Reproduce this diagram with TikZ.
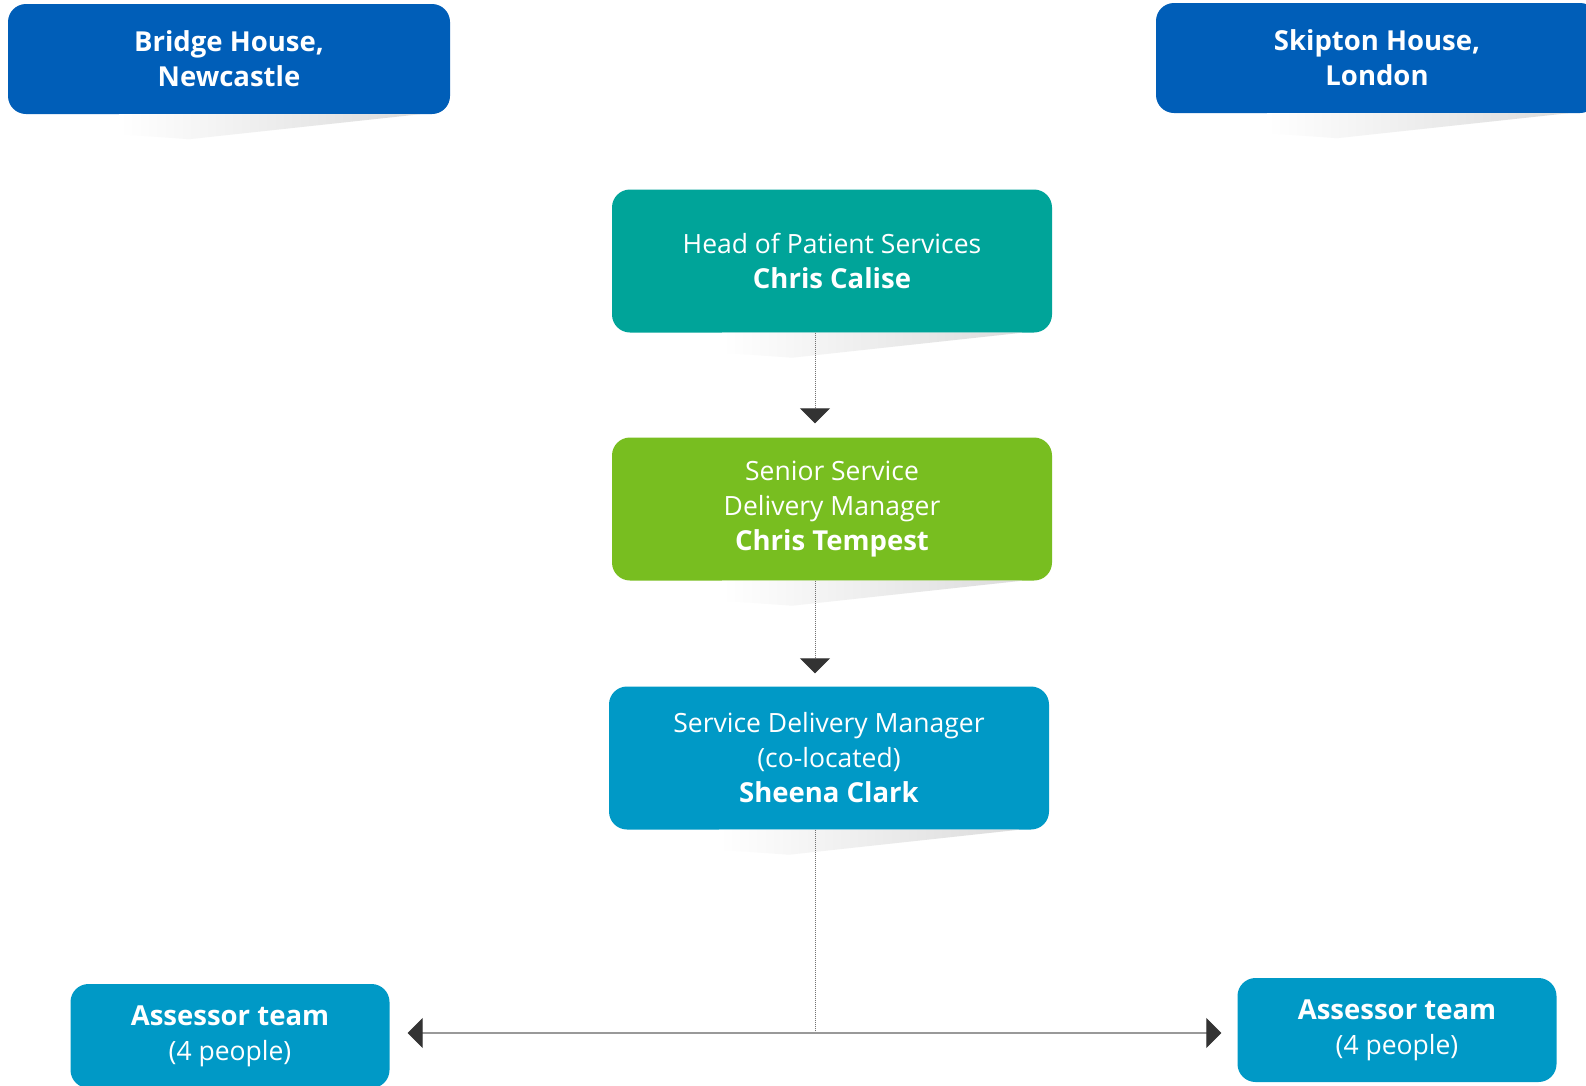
\documentclass[tikz,border=0pt]{standalone}
\usepackage{fontspec}
\setmainfont{Open Sans}
\usetikzlibrary{arrows.meta}
\definecolor{nhsblue}{HTML}{005EB8}
\definecolor{headteal}{HTML}{00A499}
\definecolor{seniorgreen}{HTML}{78BE20}
\definecolor{teamblue}{HTML}{0099C6}
\definecolor{tipgrey}{HTML}{333333}
\begin{document}
\begin{tikzpicture}[x=1pt,y=-1pt,
    box/.style={rounded corners=18pt, text=white, align=center, inner sep=0pt,
        font=\fontsize{26.5}{35}\selectfont, minimum width=440pt, minimum height=143pt},
    sitebox/.style={box, fill=nhsblue, minimum width=442pt, minimum height=110pt, font=\fontsize{27.5}{35}\selectfont\bfseries},
    teambox/.style={box, fill=teamblue, minimum width=319pt, minimum height=104pt},
    dotline/.style={densely dotted, black!55, line width=1pt},
    hline/.style={gray!80, line width=1.2pt},
    tip/.style={-{Triangle[width=30pt,length=15pt,color=tipgrey]}}]
    \clip (0,0) rectangle (1586,1085);
    \fill[white] (0,0) rectangle (1586,1085);
    \node[sitebox] (bridge) at (229,59) {Bridge House,\\Newcastle};
    \node[sitebox] (skipton) at (1377,58) {Skipton House,\\London};
    \node[box, fill=headteal] (head) at (832,261) {Head of Patient Services\\{\fontsize{27.5}{35}\selectfont\bfseries Chris Calise}};
    \node[box, fill=seniorgreen] (senior) at (832,509) {Senior Service\\Delivery Manager\\{\fontsize{27.5}{35}\selectfont\bfseries Chris Tempest}};
    \node[box, fill=teamblue] (sdm) at (829,758) {Service Delivery Manager\\(co-located)\\{\fontsize{27.5}{35}\selectfont\bfseries Sheena Clark}};
    \node[teambox] (teamleft) at (230,1036) {{\fontsize{27.5}{35}\selectfont\bfseries Assessor team}\\(4 people)};
    \node[teambox] (teamright) at (1397,1030) {{\fontsize{27.5}{35}\selectfont\bfseries Assessor team}\\(4 people)};
    \foreach \n in {bridge,skipton,head,senior,sdm}
        \shade[left color=white, right color=gray!28]
            ([xshift=-110pt]\n.south) -- ([xshift=-30pt]\n.south east)
            -- ([xshift=-40pt,yshift=-25pt]\n.south) -- ([xshift=-110pt,yshift=-20pt]\n.south) -- cycle;
    \coordinate (junction) at (815,1033);
    \draw[dotline, tip, shorten >=14pt] (head.south -| junction) -- (senior.north -| junction);
    \draw[dotline, tip, shorten >=13pt] (senior.south -| junction) -- (sdm.north -| junction);
    \draw[dotline] (sdm.south -| junction) -- (junction);
    \draw[hline, tip, shorten >=18pt] (junction) -- (junction -| teamleft.east);
    \draw[hline, tip, shorten >=16pt] (junction) -- (junction -| teamright.west);
\end{tikzpicture}
\end{document}
